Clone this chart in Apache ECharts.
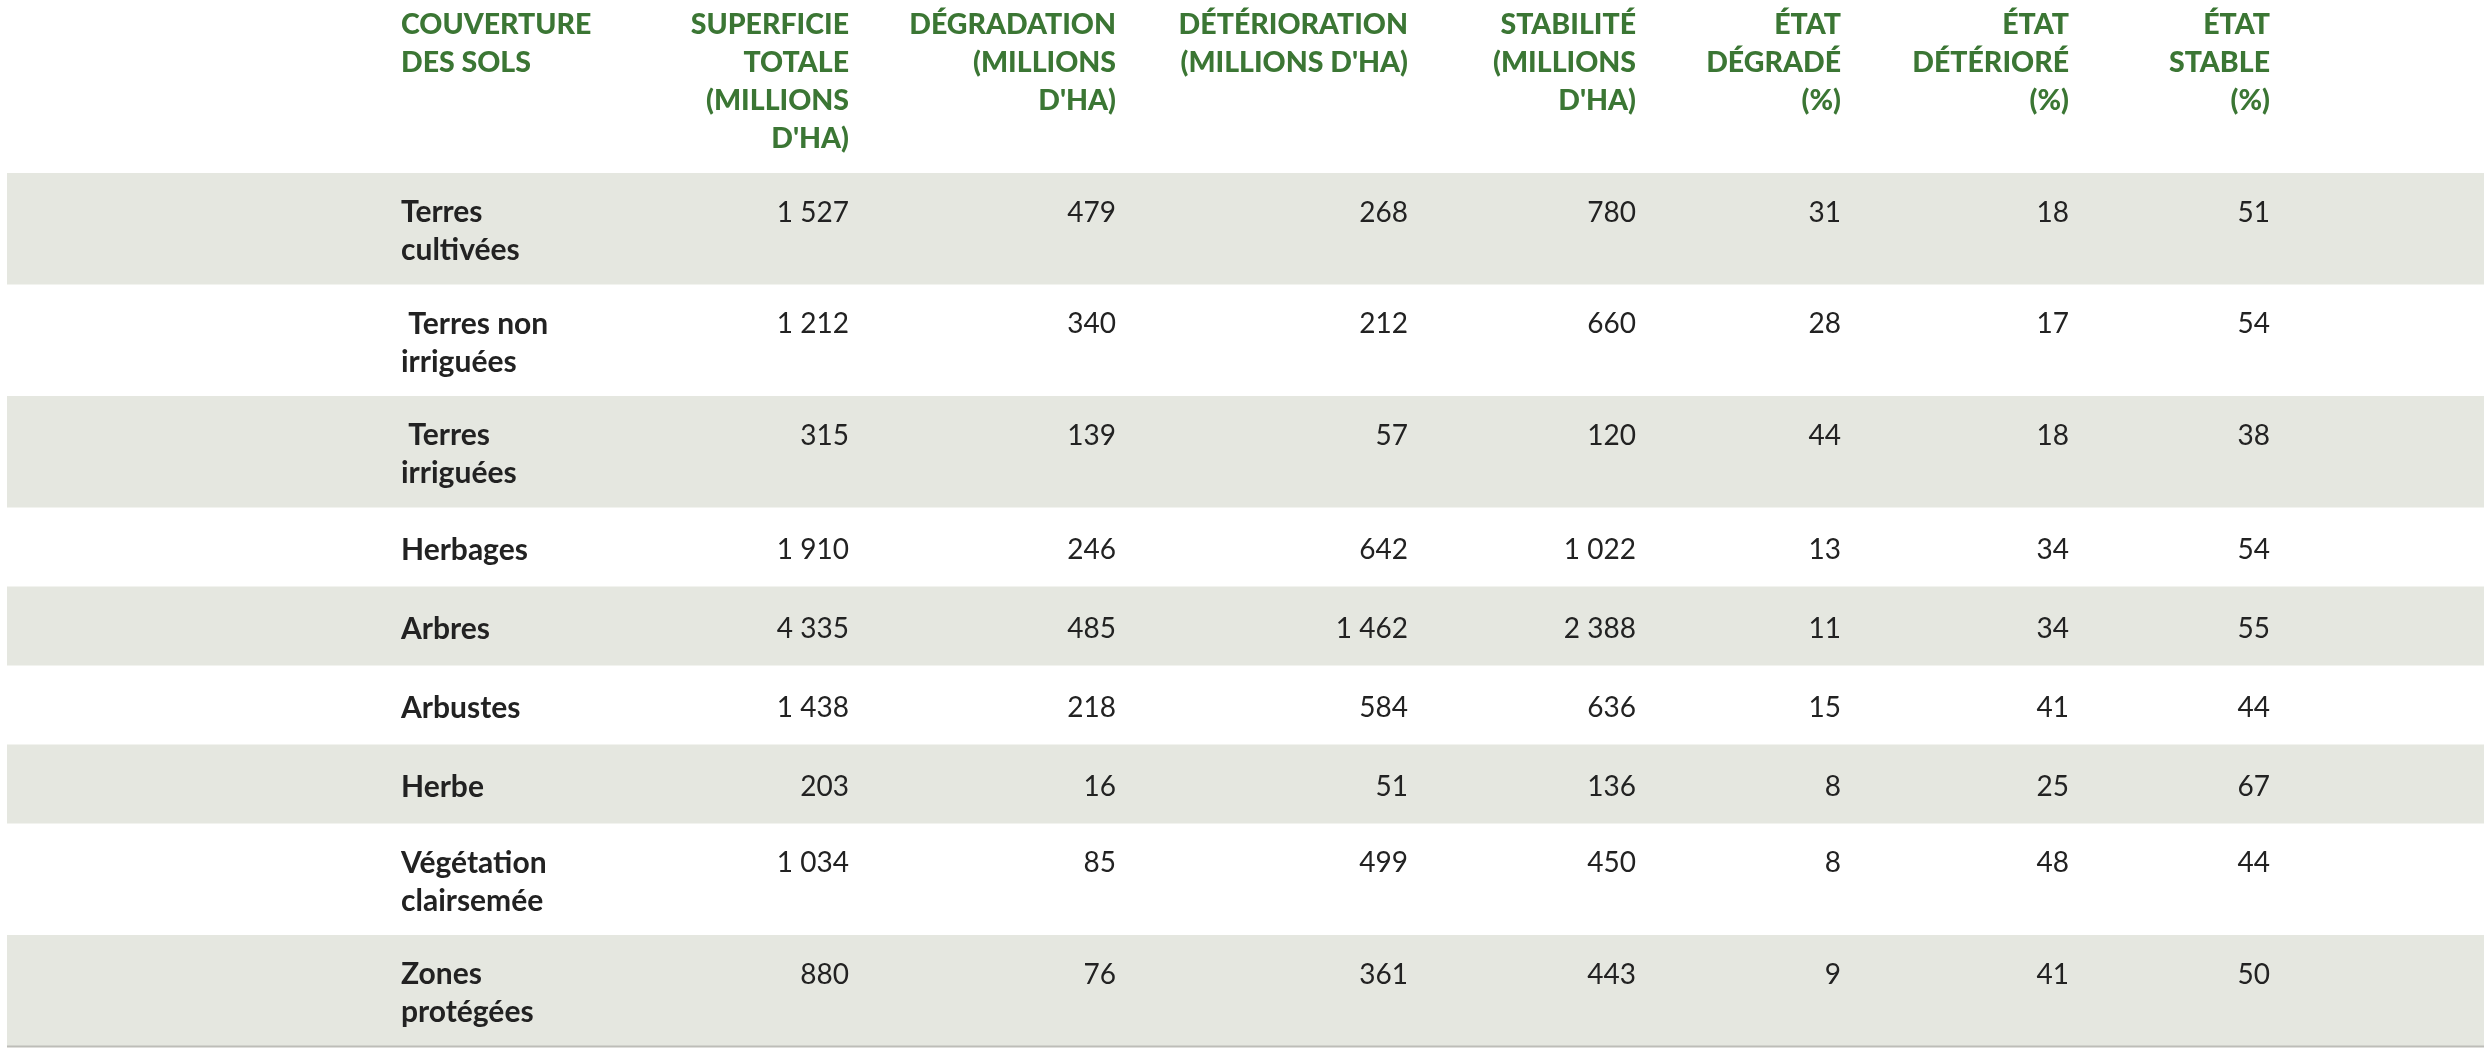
<!DOCTYPE html>
<html>
<head>
<meta charset="utf-8">
<script src="https://cdn.jsdelivr.net/npm/echarts@6/dist/echarts.min.js"></script>
<style>
html,body{margin:0;padding:0;background:#fff;}
#chart{width:2488px;height:1056px;}
</style>
</head>
<body>
<div id="chart"></div>
<script>
// ---- data ----
const headers = [
  'COUVERTURE\nDES SOLS',
  'SUPERFICIE\nTOTALE\n(MILLIONS\nD\'HA)',
  'DÉGRADATION\n(MILLIONS\nD\'HA)',
  'DÉTÉRIORATION\n(MILLIONS D\'HA)',
  'STABILITÉ\n(MILLIONS\nD\'HA)',
  'ÉTAT\nDÉGRADÉ\n(%)',
  'ÉTAT\nDÉTÉRIORÉ\n(%)',
  'ÉTAT\nSTABLE\n(%)'
];
const categories = [
  'Terres\ncultivées',
  ' Terres non\nirriguées',
  ' Terres\nirriguées',
  'Herbages',
  'Arbres',
  'Arbustes',
  'Herbe',
  'Végétation\nclairsemée',
  'Zones\nprotégées'
];
const superficie    = [1527, 1212, 315, 1910, 4335, 1438, 203, 1034, 880];
const degradation   = [479, 340, 139, 246, 485, 218, 16, 85, 76];
const deterioration = [268, 212, 57, 642, 1462, 584, 51, 499, 361];
const stabilite     = [780, 660, 120, 1022, 2388, 636, 136, 450, 443];
const etatDegrade   = [31, 28, 44, 13, 11, 15, 8, 8, 9];
const etatDeteriore = [18, 17, 18, 34, 34, 41, 25, 48, 41];
const etatStable    = [51, 54, 38, 54, 55, 44, 67, 44, 50];

// ---- layout ----
const W = 2488, H = 1056;
const colX = [401, 849, 1116, 1408, 1636, 1841, 2069, 2270];
const colAlign = ['left', 'right', 'right', 'right', 'right', 'right', 'right', 'right'];
const headerTop = 6;
const bodyTop = 173;
const LH = 38;
const textShift = 3;
const rowH = n => (n > 1 ? 111.5 : 79);
const rowTops = [];
(function () {
  let y = bodyTop;
  categories.forEach(c => { rowTops.push(y); y += rowH(c.split('\n').length); });
  rowTops.push(y);
})();

const FONT = 'Lato, "Open Sans", sans-serif';
const GREEN = '#3b7634';
const DARK = '#222222';
const fmt = v => String(v).replace(/\B(?=(\d{3})+(?!\d))/g, ' ');

const columns = [superficie, degradation, deterioration, stabilite, etatDegrade, etatDeteriore, etatStable];

const cellData = [];
categories.forEach((c, r) => {
  cellData.push([0, r, c]);
  columns.forEach((arr, k) => cellData.push([k + 1, r, fmt(arr[r])]));
});
const headerData = headers.map((h, i) => [i, h]);
const bandData = categories.map((c, i) => [i]);

const chart = echarts.init(document.getElementById('chart'), null, { renderer: 'canvas' });
chart.setOption({
  animation: false,
  backgroundColor: '#ffffff',
  grid: { left: 0, right: 0, top: 0, bottom: 0 },
  xAxis: { type: 'value', min: 0, max: W, show: false },
  yAxis: { type: 'value', min: 0, max: H, inverse: true, show: false },
  series: [
    {
      type: 'custom',
      data: bandData,
      silent: true,
      renderItem: function (params, api) {
        const r = api.value(0);
        const p0 = api.coord([7, rowTops[r]]);
        const p1 = api.coord([2484, rowTops[r + 1]]);
        const children = [];
        if (r % 2 === 0) {
          children.push({ type: 'rect', shape: { x: p0[0], y: p0[1], width: p1[0] - p0[0], height: p1[1] - p0[1] }, style: { fill: '#e5e7e0' } });
        }
        if (r === categories.length - 1) {
          children.push({ type: 'rect', shape: { x: p0[0], y: p1[1] - 1, width: p1[0] - p0[0], height: 2 }, style: { fill: '#bdbdb8' } });
        }
        return { type: 'group', children: children };
      }
    },
    {
      type: 'custom',
      data: headerData,
      silent: true,
      renderItem: function (params, api) {
        const i = api.value(0);
        const p = api.coord([colX[i], headerTop]);
        return {
          type: 'text', x: p[0], y: p[1],
          style: {
            text: headers[i], fill: GREEN, fontFamily: FONT, fontWeight: 900, fontSize: 28.5,
            lineHeight: LH, align: colAlign[i], verticalAlign: 'top'
          }
        };
      }
    },
    {
      type: 'custom',
      data: cellData,
      silent: true,
      renderItem: function (params, api) {
        const c = api.value(0), r = api.value(1);
        const item = cellData[params.dataIndex];
        const lines = categories[r].split('\n').length;
        const mid = (rowTops[r] + rowTops[r + 1]) / 2 + textShift;
        let y = c === 0 ? mid : mid - (lines - 1) * LH / 2;
        const p = api.coord([colX[c], y]);
        return {
          type: 'text', x: p[0], y: p[1],
          style: {
            text: item[2], fill: DARK, fontFamily: FONT,
            fontWeight: c === 0 ? 700 : 400, fontSize: c === 0 ? 30 : 28,
            lineHeight: LH, align: colAlign[c], verticalAlign: 'middle'
          }
        };
      }
    }
  ]
});
</script>
</body>
</html>
